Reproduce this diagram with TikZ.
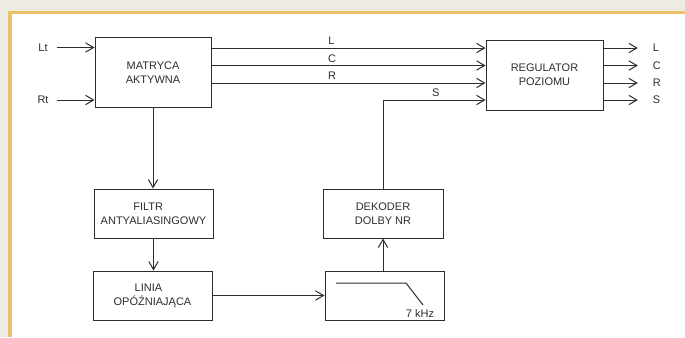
\documentclass[tikz,border=0pt]{standalone}
\usepackage{fontspec}
\setmainfont{Liberation Sans}
\usetikzlibrary{arrows.meta,calc}
\definecolor{bgc}{RGB}{238,235,228}
\definecolor{goldc}{RGB}{233,194,106}
\definecolor{ink}{RGB}{45,45,45}
\begin{document}
\begin{tikzpicture}[x=0.75pt,y=-0.75pt,
  font=\fontsize{8.25}{10.5}\selectfont,
  box/.style={draw=ink, line width=0.75pt, align=center, inner sep=0pt, text=ink},
  bigbox/.style={box, minimum width=87pt, minimum height=53pt},
  smallbox/.style={box, minimum width=89.25pt, minimum height=36.75pt},
  conn/.style={draw=ink, line width=0.75pt},
  arr/.style={conn, -{Straight Barb[length=6pt,width=7pt]}},
  lbl/.style={inner sep=0pt, text=ink}]
\useasboundingbox (0,0) rectangle (685,337);
\fill[bgc] (0,0) rectangle (685,337);
\fill[goldc] (8,11) rectangle (685,337);
\fill[white] (12,14) rectangle (685,337);

% boxes
\node[bigbox] (mat) at (153,72.5) {MATRYCA\\AKTYWNA};
\node[bigbox, minimum width=87.75pt, minimum height=52.5pt] (reg) at (544.5,75) {REGULATOR\\POZIOMU};
\node[smallbox] (fil) at (153.5,213.5) {FILTR\hspace*{8pt}\\ANTYALIASINGOWY};
\node[smallbox] (lin) at (152.5,295.5) {LINIA\hspace*{6pt}\\OPÓŹNIAJĄCA};
\node[smallbox, minimum width=90pt] (dek) at (383,213.5) {DEKODER\\DOLBY NR};
\node[smallbox] (lpf) at (384.5,295.5) {};
\node[lbl] (khz) at (420,313.5) {7 kHz};
\draw[conn] (336,283) -- (406,283) -- (423,305);

% inputs
\node[lbl] (lt) at (43,47.5) {Lt};
\node[lbl] (rt) at (43,100) {Rt};
\draw[arr] ([xshift=7pt]lt.east) -- (lt.east -| mat.west);
\draw[arr] ([xshift=6.5pt]rt.east) -- (rt.east -| mat.west);

% channel levels
\coordinate (yL) at (0,48);
\coordinate (yC) at (0,65.5);
\coordinate (yR) at (0,83);
\coordinate (yS) at (0,100);

\draw[arr] (mat.east |- yL) -- node[lbl, pos=0.438, above=2pt] {L} (reg.west |- yL);
\draw[arr] (mat.east |- yC) -- node[lbl, pos=0.44, above=2pt] {C} (reg.west |- yC);
\draw[arr] (mat.east |- yR) -- node[lbl, pos=0.44, above=2pt] {R} (reg.west |- yR);
\draw[arr] (dek.north) -- (dek.north |- yS) -- node[lbl, pos=0.515, above=2pt] {S} (reg.west |- yS);

% outputs
\node[lbl, anchor=west] (oL) at (652.5,48) {L};
\node[lbl, anchor=west] (oC) at (652.5,65.5) {C};
\node[lbl, anchor=west] (oR) at (652.5,83) {R};
\node[lbl, anchor=west] (oS) at (652.5,100) {S};
\draw[arr] (reg.east |- oL) -- ([xshift=-11pt]oL.west);
\draw[arr] (reg.east |- oC) -- ([xshift=-11pt]oC.west);
\draw[arr] (reg.east |- oR) -- ([xshift=-11pt]oR.west);
\draw[arr] (reg.east |- oS) -- ([xshift=-11pt]oS.west);

% chain
\draw[arr] (mat.south) -- (mat.south |- fil.north);
\draw[arr] (fil.south) -- (fil.south |- lin.north);
\draw[arr] (lin.east) -- (lin.east -| lpf.west);
\draw[arr] (dek.south |- lpf.north) -- (dek.south);
\end{tikzpicture}
\end{document}
